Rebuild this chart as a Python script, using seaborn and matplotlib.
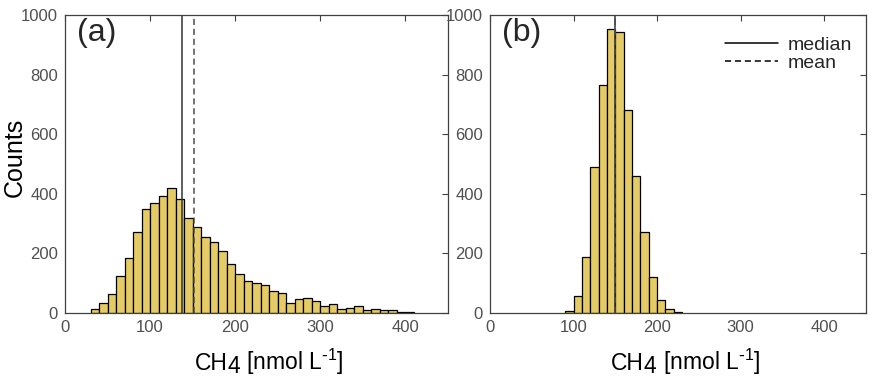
"""Histograms of CH4 concentration: (a) observed spread, (b) narrower distribution."""

import matplotlib

matplotlib.use("Agg")
import matplotlib.pyplot as plt
import numpy as np
import pandas as pd
import seaborn as sns
from matplotlib.lines import Line2D

# bin left edges (10 nmol/L bins) and counts
bins_a = np.arange(30, 410, 10)
counts_a = [13, 32, 64, 124, 185, 272, 350, 370, 392, 419, 383, 319, 290, 255,
            238, 207, 166, 131, 109, 100, 93, 74, 67, 32, 48, 51, 39, 23, 29,
            15, 18, 23, 11, 15, 10, 10, 4, 3]
median_a = 138
mean_a = 151

bins_b = np.arange(90, 230, 10)
counts_b = [8, 58, 187, 489, 766, 954, 943, 680, 459, 273, 120, 44, 15, 2]
median_b = 149.5
mean_b = 150

panel_labels = ["(a)", "(b)"]
bar_color = "#E5CB65"
axis_color = "#404040"

sns.set_theme(style="white")
plt.rcParams["font.family"] = ["Liberation Sans", "DejaVu Sans"]
plt.rcParams["mathtext.default"] = "regular"

fig = plt.figure(figsize=(8.76, 3.86), dpi=100)
ax_a = fig.add_axes([65 / 876, 73 / 386, 383 / 876, 298 / 386])
ax_b = fig.add_axes([490 / 876, 73 / 386, 376 / 876, 298 / 386])

panels = [
    (ax_a, bins_a, counts_a, median_a, mean_a, 0.339),
    (ax_b, bins_b, counts_b, median_b, mean_b, 0.322),
]

for i, (ax, lefts, counts, med, mn, label_x) in enumerate(panels):
    # seaborn compares bins to "auto", so hand it a plain list
    edges = np.append(lefts, lefts[-1] + 10).tolist()
    df = pd.DataFrame({"ch4": lefts + 5, "n": counts})
    sns.histplot(
        data=df,
        x="ch4",
        weights="n",
        bins=edges,
        color=bar_color,
        edgecolor="black",
        linewidth=0.9,
        alpha=1,
        ax=ax,
    )
    ax.axvline(med, color="#333333", lw=1.1, ls="-")
    ax.axvline(mn, color="#4d4d4d", lw=1.1, ls=(0, (4, 2.5)))

    ax.set_xlim(0, 450)
    ax.set_ylim(0, 1000)
    ax.set_xticks([0, 100, 200, 300, 400])
    ax.set_yticks([0, 200, 400, 600, 800, 1000])
    ax.tick_params(direction="in", length=4, width=0.8, top=True, right=True,
                   colors=axis_color, labelsize=12, pad=5,
                   labelcolor="#505050")
    for spine in ax.spines.values():
        spine.set_color(axis_color)
        spine.set_linewidth(0.9)

    ax.set_xlabel("")
    ax.set_ylabel("")

    # x label: the 4 is lowered but kept full size, as in the original
    lbl = dict(fontsize=16.5, color="black", ha="left", va="baseline")
    base_y = -0.19
    t1 = ax.text(label_x, base_y, "CH", transform=ax.transAxes, **lbl)
    t2 = ax.annotate("4", xy=(1, base_y), xycoords=(t1, "axes fraction"),
                     xytext=(0, -2.5), textcoords="offset points", **lbl)
    ax.annotate(r" [nmol L$^{\text{-}1}$]", xy=(1, base_y),
                xycoords=(t2, "axes fraction"), **lbl)

    ax.text(0.031, 0.99, panel_labels[i], transform=ax.transAxes,
            fontsize=23, va="top", ha="left")

ax_a.set_ylabel("Counts", fontsize=18, color="black")
ax_a.yaxis.set_label_coords(-0.10, 0.523)

handles = [
    Line2D([], [], color="black", lw=1.1, ls="-"),
    Line2D([], [], color="black", lw=1.1, ls=(0, (4, 2.5))),
]
ax_b.legend(handles, ["median", "mean"], loc="upper right", frameon=False,
            bbox_to_anchor=(1.0, 0.975), fontsize=14, handlelength=2.7,
            labelspacing=0.03, handletextpad=0.5, borderaxespad=0.32)

fig.savefig("out.png", dpi=100)
